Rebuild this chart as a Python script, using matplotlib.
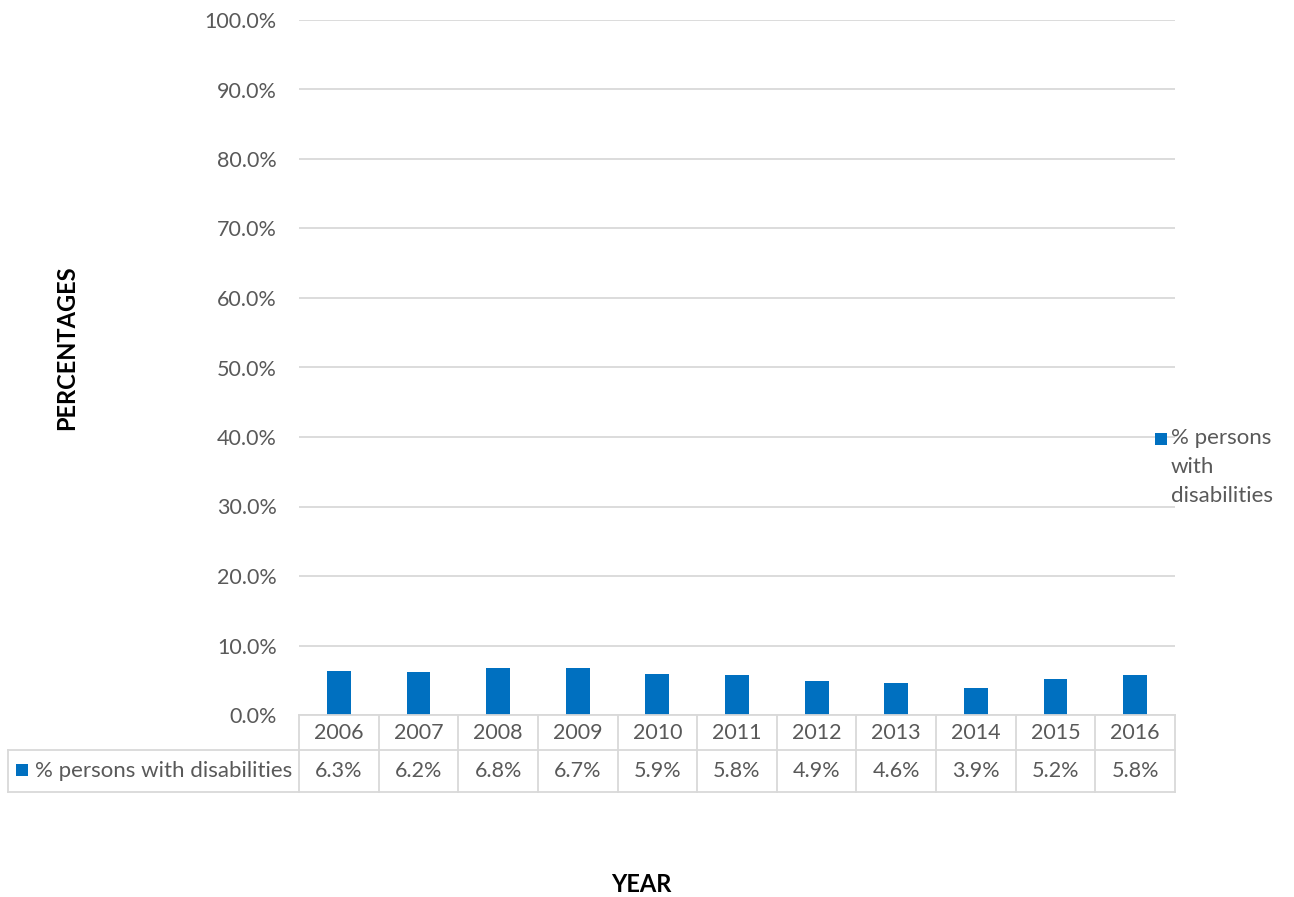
import matplotlib.pyplot as plt
import matplotlib.transforms as mtransforms
from matplotlib.lines import Line2D
from matplotlib.patches import Rectangle
from matplotlib.ticker import FuncFormatter

years = ["2006", "2007", "2008", "2009", "2010", "2011", "2012", "2013", "2014", "2015", "2016"]
pct_disabled = [6.3, 6.2, 6.8, 6.7, 5.9, 5.8, 4.9, 4.6, 3.9, 5.2, 5.8]
series_name = "% persons with disabilities"

BAR = "#0070C0"
GRID = "#d9d9d9"
TXT = "#595959"
W, H = 1294, 897
FS = 15.5

plt.rcParams["font.family"] = ["Lato", "DejaVu Sans"]

fig = plt.figure(figsize=(W / 100, H / 100), dpi=100)
ax = fig.add_axes([299 / W, (H - 715) / H, (1175 - 299) / W, (715 - 20) / H])

x = range(len(years))
ax.bar(x, pct_disabled, width=0.3, color=BAR, zorder=2)
ax.set_xlim(-0.5, len(years) - 0.5)
ax.set_ylim(0, 100)
ax.set_yticks(range(0, 101, 10))
ax.yaxis.set_major_formatter(FuncFormatter(lambda v, _: f"{v:.1f}%"))
ax.grid(axis="y", color=GRID, linewidth=1.3, zorder=0)
ax.set_xticks([])
for s in ax.spines.values():
    s.set_visible(False)
ax.tick_params(axis="y", length=0, labelsize=FS, labelcolor=TXT, pad=16)

# data table under the plot
tr = mtransforms.blended_transform_factory(ax.transData, fig.transFigure)
fy = lambda py: (H - py) / H
fx = lambda px: px / W
lkw = dict(color=GRID, linewidth=1.3)
n = len(years)
for k in range(n + 1):
    fig.add_artist(Line2D([k - 0.5, k - 0.5], [fy(715), fy(792)], transform=tr, **lkw))
fig.add_artist(Line2D([-0.5, n - 0.5], [fy(715), fy(715)], transform=tr, **lkw))
fig.add_artist(Line2D([fx(8), fx(1175)], [fy(750), fy(750)], transform=fig.transFigure, **lkw))
fig.add_artist(Line2D([fx(8), fx(1175)], [fy(792), fy(792)], transform=fig.transFigure, **lkw))
fig.add_artist(Line2D([fx(8), fx(8)], [fy(750), fy(792)], transform=fig.transFigure, **lkw))

for i, (yr, v) in enumerate(zip(years, pct_disabled)):
    fig.text(i, fy(733), yr, transform=tr, ha="center", va="center", fontsize=FS, color=TXT)
    fig.text(i, fy(771), f"{v:.1f}%", transform=tr, ha="center", va="center", fontsize=FS, color=TXT)

fig.add_artist(Rectangle((fx(16), fy(776)), 12 / W, 12 / H, transform=fig.transFigure,
                         facecolor=BAR, edgecolor="none"))
fig.text(fx(35), fy(771), series_name, ha="left", va="center", fontsize=FS + 0.5, color=TXT)

# legend on the right
fig.add_artist(Rectangle((fx(1155), fy(445)), 12 / W, 12 / H, transform=fig.transFigure,
                         facecolor=BAR, edgecolor="none"))
fig.text(fx(1171), fy(428), "% persons\nwith\ndisabilities", ha="left", va="top",
         fontsize=FS + 0.5, color=TXT, linespacing=1.55)

fig.text(fx(67), fy(348), "PERCENTAGES", rotation=90, ha="center", va="center",
         fontsize=17, fontweight="bold", color="black")
fig.text(fx(641), fy(884), "YEAR", ha="center", va="center",
         fontsize=17, fontweight="bold", color="black")

fig.savefig("out.png", dpi=100)
